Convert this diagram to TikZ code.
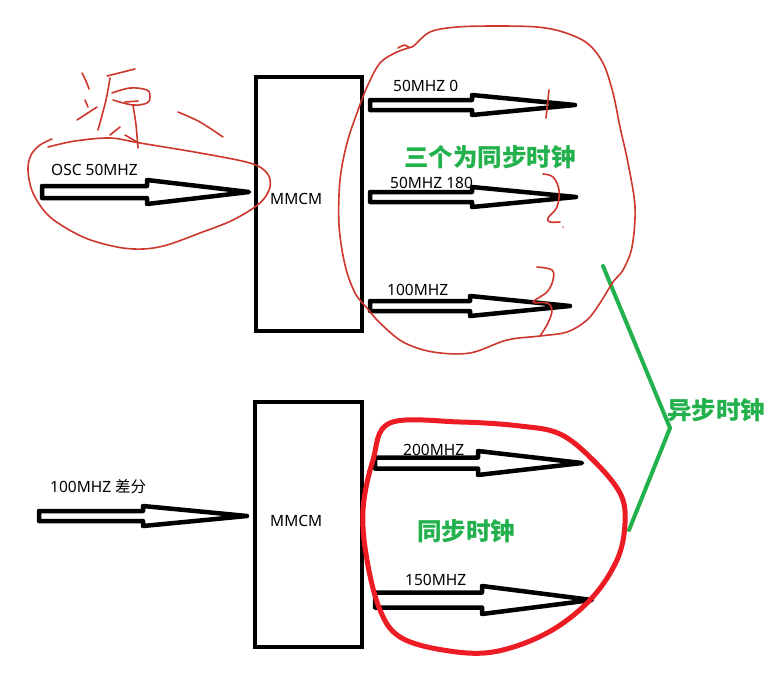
\documentclass[tikz,border=0pt]{standalone}
\usepackage{fontspec}
\setmainfont{Noto Sans}
\newfontfamily\cjk{Noto Sans CJK SC}
\newfontfamily\lat{Noto Sans}
\definecolor{redthin}{RGB}{205,55,45}
\definecolor{redthick}{RGB}{237,28,36}
\definecolor{pgreen}{RGB}{34,177,76}
\newcommand{\blkarrow}[6]{% tail, head, tip, y, shaft half, head half
  \draw[blk] (#1,#4-#5) -- (#2,#4-#5) -- (#2,#4-#6) -- (#3,#4) -- (#2,#4+#6) -- (#2,#4+#5) -- (#1,#4+#5) -- cycle;}
\begin{document}
\begin{tikzpicture}[x=1pt,y=-1pt,
  mbox/.style={draw,line width=4.5pt,inner sep=0pt},
  blk/.style={draw,fill=white,line width=4.5pt,line join=round},
  lbl/.style={anchor=west,inner sep=0pt,font=\lat\fontsize{15.5}{17}\selectfont},
  gtxt/.style={text=pgreen,inner sep=0pt,font=\cjk\bfseries\fontsize{24.5}{27}\selectfont},
  rthin/.style={draw=redthin,line width=1.6pt,line cap=round,line join=round},
  rthick/.style={draw=redthick,line width=5pt,line cap=round,line join=round},
  gline/.style={draw=pgreen,line width=4pt,line cap=round,line join=round}]
\useasboundingbox (0,0) rectangle (769,694);
\fill[white] (0,0) rectangle (769,694);

% MMCM boxes
\node[mbox,minimum width=106pt,minimum height=254pt] (mmcm1) at (309,204) {};
\node[mbox,minimum width=107pt,minimum height=245pt] (mmcm2) at (308.5,524.5) {};
\node[lbl] (mlab1) at (270,199) {MMCM};
\node[lbl] (mlab2) at (270,521) {MMCM};

% labels
\node[lbl] (osc) at (51,170) {OSC 50MHZ};
\node[lbl] (l500) at (393,86) {50MHZ 0};
\node[lbl] (l180) at (390,183) {50MHZ 180};
\node[lbl] (l100) at (387,290) {100MHZ};
\node[lbl] (ldiff) at (50,487) {100MHZ {\cjk 差分}};
\node[lbl] (l200) at (403,450) {200MHZ};
\node[lbl] (l150) at (405,580) {150MHZ};

% block arrows
\blkarrow{42}{147}{249}{192}{6}{12}
\blkarrow{370}{472}{575}{105}{5}{10}
\blkarrow{370}{472}{576}{197}{5}{10}
\blkarrow{370}{470}{570}{306}{5}{10}
\blkarrow{39}{143}{247}{516}{5}{10}
\blkarrow{375}{478}{582}{463}{5.5}{12}
\blkarrow{375}{482}{592}{600}{7.5}{14}

% green texts
\node[gtxt] (sync3) at (490,157) {三个为同步时钟};
\node[gtxt] (sync2) at (466,531) {同步时钟};
\node[gtxt] (async) at (716,410) {异步时钟};

% green bracket
\coordinate (g1) at (603,266);
\coordinate (g2) at (670,428);
\coordinate (g3) at (629,530);
\draw[gline] (g1) -- (g2) -- (g3);

% red loop around OSC
\draw[rthin] plot[smooth,tension=0.55] coordinates {(52,139) (40,145) (31,155) (28,170) (33,193) (50,217) (83,237) (117,247) (143,249) (167,245) (200,233) (233,220) (260,203) (270,187) (267,173) (250,163) (200,153) (140,143) (110,138) (75,141) (48,147)};

% hand-written scribble
\draw[rthin] plot[smooth] coordinates {(82,73) (86,81) (89,89)};
\draw[rthin] (85,100) -- (88,107);
\draw[rthin] (77,120) -- (97,107);
\draw[rthin] (107,76) -- (135,69);
\draw[rthin] plot[smooth] coordinates {(110,78) (106,100) (98,130)};
\draw[rthin] plot[smooth,tension=0.6] coordinates {(112,93) (130,88) (147,90) (150,97) (147,103) (133,105) (113,100)};
\draw[rthin] (125,102) -- (138,101);
\draw[rthin] plot[smooth] coordinates {(133,105) (136,125) (138,148)};
\draw[rthin] (110,135) -- (120,127);
\draw[rthin] (125,135) -- (137,142);
\draw[rthin] plot[smooth] coordinates {(178,112) (200,122) (223,137)};

% big red thin loop (top outputs)
\draw[rthin] plot[smooth,tension=0.55] coordinates {(398,48) (405,45) (412,47) (430,32) (457,27) (497,26) (537,27) (563,32) (587,43) (603,63) (613,93) (620,127) (628,163) (635,207) (632,247) (623,270) (613,282) (600,303) (587,320) (567,332) (540,336) (507,340) (470,353) (433,352) (403,342) (380,323) (367,308) (355,293) (345,265) (339,225) (340,180) (347,143) (357,113) (367,87) (380,63) (397,52) (412,47)};
% scribbles near arrow tips
\draw[rthin] (549,90) -- (546,118);
\draw[rthin] plot[smooth,tension=0.6] coordinates {(543,174) (553,177) (559,190) (557,207) (548,218) (550,222) (560,222)};
\fill[redthin] (563,227) circle (0.8pt);
\draw[rthin] plot[smooth,tension=0.6] coordinates {(537,267) (552,270) (553,280) (547,292) (533,302) (547,303) (552,310) (548,323) (540,336)};

% thick red loop (bottom outputs)
\draw[rthick] plot[smooth cycle,tension=0.6] coordinates {(390,423) (460,422) (520,426) (560,434) (593,460) (620,493) (625,523) (617,560) (590,600) (547,633) (493,652) (443,650) (400,637) (380,610) (367,560) (363,510) (373,460)};
\end{tikzpicture}
\end{document}
